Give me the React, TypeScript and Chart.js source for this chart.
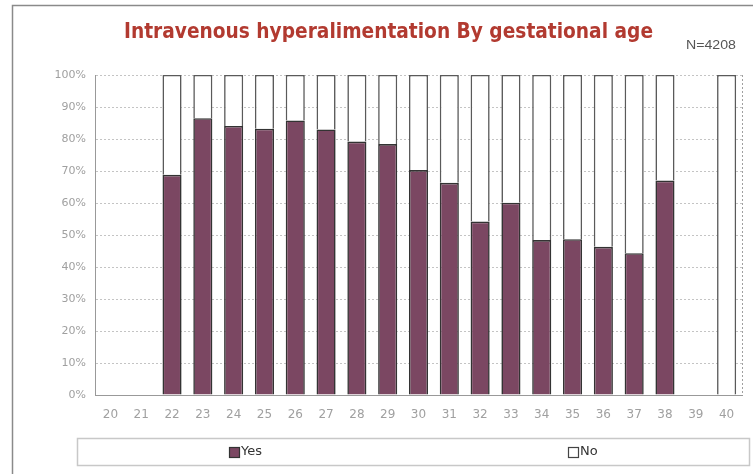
import React, { useEffect, useRef } from "react";
import { Chart, registerables } from "chart.js";

Chart.register(...registerables);

const weeks: string[] = ["20", "21", "22", "23", "24", "25", "26", "27", "28", "29", "30", "31", "32", "33", "34", "35", "36", "37", "38", "39", "40"];
const yesPct: (number | null)[] = [null, null, 68.8, 86.5, 84.1, 83.2, 85.8, 83.0, 79.2, 78.4, 70.3, 66.3, 54.2, 60.1, 48.4, 48.7, 46.3, 44.3, 67.0, null, null];
const noPct: (number | null)[] = [null, null, 31.2, 13.5, 15.9, 16.8, 14.2, 17.0, 20.8, 21.6, 29.7, 33.7, 45.8, 39.9, 51.6, 51.3, 53.7, 55.7, 33.0, null, 100];
const yTicks: number[] = [0, 10, 20, 30, 40, 50, 60, 70, 80, 90, 100];
const titleText = "Intravenous hyperalimentation By gestational age";
const noteText = "N=4208";
const seriesNames = ["Yes", "No"];

const YES_COLOR = "#7b4762";
const NO_COLOR = "#ffffff";

const decorPlugin = {
  id: "decor",
  beforeDraw(chart: any) {
    const ctx = chart.ctx;
    ctx.save();
    ctx.fillStyle = "#ffffff";
    ctx.fillRect(0, 0, chart.width, chart.height);
    ctx.restore();
  },
  afterDraw(chart: any) {
    const ctx = chart.ctx;
    const a = chart.chartArea;
    ctx.save();
    // outer frame
    ctx.strokeStyle = "#8a8a8a";
    ctx.lineWidth = 1.5;
    ctx.beginPath();
    ctx.moveTo(12.5, chart.height);
    ctx.lineTo(12.5, 5.5);
    ctx.lineTo(chart.width, 5.5);
    ctx.stroke();

    // right dashed border of plot
    ctx.strokeStyle = "#a0a0a0";
    ctx.lineWidth = 1;
    ctx.setLineDash([2, 2]);
    ctx.beginPath();
    ctx.moveTo(a.right + 0.5, a.top);
    ctx.lineTo(a.right + 0.5, a.bottom);
    ctx.stroke();
    ctx.setLineDash([]);

    // title
    ctx.font = "bold 21px 'DejaVu Sans Condensed', 'Liberation Sans', sans-serif";
    const w = ctx.measureText(titleText).width;
    const targetW = 529;
    ctx.fillStyle = "#b23a30";
    ctx.textBaseline = "alphabetic";
    ctx.textAlign = "left";
    ctx.save();
    ctx.translate(124, 37.5);
    ctx.scale(targetW / w, 1);
    ctx.fillText(titleText, 0, 0);
    ctx.restore();

    // N note
    ctx.font = "13px 'Liberation Sans', sans-serif";
    const nw = ctx.measureText(noteText).width;
    ctx.fillStyle = "#555555";
    ctx.save();
    ctx.translate(686, 49);
    ctx.scale(50 / nw, 1);
    ctx.fillText(noteText, 0, 0);
    ctx.restore();

    // legend
    const lx = a.left - 18;
    const lr = a.right + 7;
    const ly = a.bottom + 43;
    const lh = 27;
    ctx.strokeStyle = "#c8c8c8";
    ctx.lineWidth = 1.5;
    ctx.strokeRect(lx + 0.5, ly + 0.5, lr - lx, lh);
    const ds = chart.data.datasets;
    const items = [
      { x: lx + 152, label: ds[0].label, fill: ds[0].backgroundColor, stroke: ds[0].borderColor },
      { x: lx + 491, label: ds[1].label, fill: ds[1].backgroundColor, stroke: "#444" },
    ];
    ctx.font = "13px 'DejaVu Sans', sans-serif";
    ctx.textBaseline = "middle";
    for (const it of items) {
      const cy = ly + lh / 2 + 0.5;
      ctx.fillStyle = it.fill;
      ctx.fillRect(it.x, cy - 5, 10, 10);
      ctx.strokeStyle = it.stroke;
      ctx.lineWidth = 1.2;
      ctx.strokeRect(it.x + 0.5, cy - 5 + 0.5, 10, 10);
      ctx.fillStyle = "#333333";
      ctx.fillText(it.label, it.x + 12, cy);
    }
    ctx.restore();
  },
};

export default function App() {
  const ref = useRef<HTMLCanvasElement | null>(null);

  useEffect(() => {
    document.body.style.margin = "0";
    if (!ref.current) return;
    const chart = new Chart(ref.current, {
      type: "bar",
      data: {
        labels: weeks,
        datasets: [
          {
            label: seriesNames[0],
            data: yesPct,
            backgroundColor: YES_COLOR,
            borderColor: "#333333",
            borderWidth: 1.6,
            barPercentage: 0.62,
            categoryPercentage: 1,
          },
          {
            label: seriesNames[1],
            data: noPct,
            backgroundColor: NO_COLOR,
            borderColor: "#5a5a5a",
            borderWidth: 1.6,
            barPercentage: 0.62,
            categoryPercentage: 1,
          },
        ],
      },
      options: {
        responsive: false,
        animation: false,
        layout: { padding: { left: 0, right: 11, top: 75, bottom: 49 } },
        plugins: {
          legend: { display: false },
          title: { display: false },
          tooltip: { enabled: false },
        },
        scales: {
          x: {
            stacked: true,
            grid: { display: false },
            border: { display: true, color: "#999999", width: 1, dash: [2, 2] },
            ticks: {
              color: "#a0a0a0",
              font: { family: "'DejaVu Sans', sans-serif", size: 12 },
              padding: 5,
              maxRotation: 0,
              autoSkip: false,
            },
            afterFit: (s: any) => {
              s.height = 30;
            },
          },
          y: {
            stacked: true,
            min: 0,
            max: 100,
            afterBuildTicks: (s: any) => {
              s.ticks = yTicks.map((v) => ({ value: v }));
            },
            grid: {
              color: "#c4c4c4",
              lineWidth: 1,
              drawTicks: false,
            },
            border: { display: true, color: "#999999", width: 1, dash: [2, 2] },
            ticks: {
              color: "#a0a0a0",
              font: { family: "'DejaVu Sans', sans-serif", size: 11 },
              padding: 9,
              callback: (v: any) => v + "%",
            },
            afterFit: (s: any) => {
              s.width = 95;
            },
          },
        },
      },
      plugins: [decorPlugin],
    });
    return () => chart.destroy();
  }, []);

  return (
    <div style={{ position: "absolute", left: 0, top: 0, width: 753, height: 474 }}>
      <canvas ref={ref} width={753} height={474} style={{ display: "block" }} />
    </div>
  );
}
